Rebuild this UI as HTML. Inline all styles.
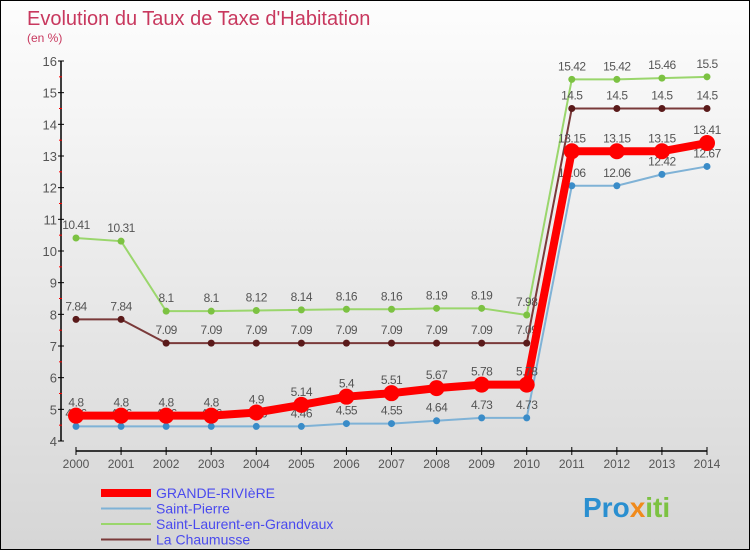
<!DOCTYPE html>
<html><head><meta charset="utf-8"><style>
body{margin:0}
#c{width:750px;height:550px;position:relative;box-sizing:border-box;border:1px solid #000;background:linear-gradient(#fdfdfd,#d6d6d6);font-family:"Liberation Sans",sans-serif;overflow:hidden}
</style></head><body>
<div id="c">
<svg id="s" width="750" height="550" style="position:absolute;left:0;top:0">
<text x="26" y="24" font-size="20" fill="#c8385e" font-weight="300">Evolution du Taux de Taxe d'Habitation</text>
<text x="26" y="41" font-size="12" fill="#c8385e">(en %)</text>
<text x="582" y="516" font-size="28" font-weight="bold" fill="#2a8fd0">Pro<tspan fill="#f08a1c">x</tspan><tspan fill="#7cc242">iti</tspan></text>
</svg>
</div>
<script>
const years=[2000,2001,2002,2003,2004,2005,2006,2007,2008,2009,2010,2011,2012,2013,2014];
const grande=[4.8,4.8,4.8,4.8,4.9,5.14,5.4,5.51,5.67,5.78,5.78,13.15,13.15,13.15,13.41];
const stPierre=[4.46,4.46,4.46,4.46,4.46,4.46,4.55,4.55,4.64,4.73,4.73,12.06,12.06,12.42,12.67];
const stLaurent=[10.41,10.31,8.1,8.1,8.12,8.14,8.16,8.16,8.19,8.19,7.98,15.42,15.42,15.46,15.5];
const chaumusse=[7.84,7.84,7.09,7.09,7.09,7.09,7.09,7.09,7.09,7.09,7.09,14.5,14.5,14.5,14.5];
const yTicks=[4,5,6,7,8,9,10,11,12,13,14,15,16];
const NS="http://www.w3.org/2000/svg";
const svg=document.getElementById('s');
const X=i=>75+i*(706-75)/(years.length-1);
const Y=v=>440-(v-4)*(380/12);
function mk(t,a,p){const e=document.createElementNS(NS,t);for(const k in a)e.setAttribute(k,a[k]);(p||svg).appendChild(e);return e;}
const ax=mk('g',{});


mk('line',{x1:60,y1:60,x2:60,y2:440,stroke:'#000','stroke-width':1.5},ax);
mk('line',{x1:75,y1:450,x2:706,y2:450,stroke:'#000','stroke-width':1.5},ax);
yTicks.forEach(v=>{
 mk('line',{x1:57,y1:Y(v),x2:63,y2:Y(v),stroke:'#000'},ax);
 if(v<16)mk('line',{x1:58,y1:Y(v+0.5),x2:61,y2:Y(v+0.5),stroke:'#f00'},ax);
 const t=mk('text',{x:56,y:Y(v)+5,'font-size':13,fill:'#555','text-anchor':'end'},ax);t.textContent=v;
 
 
});
years.forEach((y,i)=>{
 mk('line',{x1:X(i),y1:446,x2:X(i),y2:454,stroke:'#000'},ax);
 const t=mk('text',{x:X(i),y:467,'font-size':12,fill:'#555','text-anchor':'middle'},ax);t.textContent=y;
 
 
});
function series(d,color,lw,r,name,dot){
 const g=mk('g',{});
 
 
 mk('polyline',{points:d.map((v,i)=>X(i)+','+Y(v)).join(' '),fill:'none',stroke:color,'stroke-width':lw},g);
 d.forEach((v,i)=>{
  const c=mk('circle',{cx:X(i),cy:Y(v),r:r,fill:dot},g);
  
  
  const t=mk('text',{x:X(i),y:Y(v)-9,'font-size':12,fill:'#555','text-anchor':'middle','letter-spacing':'-0.5'},g);t.textContent=v;
  
  
 });
}
series(stPierre,'#7fb2d6',2,3.5,'saint-pierre-series','#3a8cc8');
series(stLaurent,'#9ad66c',2,3.5,'saint-laurent-series','#7cc242');
series(chaumusse,'#7a3a3a',2,3.5,'la-chaumusse-series','#5a1a1a');
series(grande,'#f00',8,8,'grande-riviere-series','#f00');
const leg=[['GRANDE-RIVIèRE','#f00',8],['Saint-Pierre','#7fb2d6',2],['Saint-Laurent-en-Grandvaux','#9ad66c',2],['La Chaumusse','#7a3a3a',2]];
leg.forEach((l,i)=>{
 const y=492+i*15.5;
 const g=mk('g',{});
 
 
 mk('line',{x1:100,y1:y,x2:150,y2:y,stroke:l[1],'stroke-width':l[2]},g);
 const t=mk('text',{x:155,y:y+5,'font-size':14,fill:'#4a4aee'},g);t.textContent=l[0];
});
</script>
</body></html>
